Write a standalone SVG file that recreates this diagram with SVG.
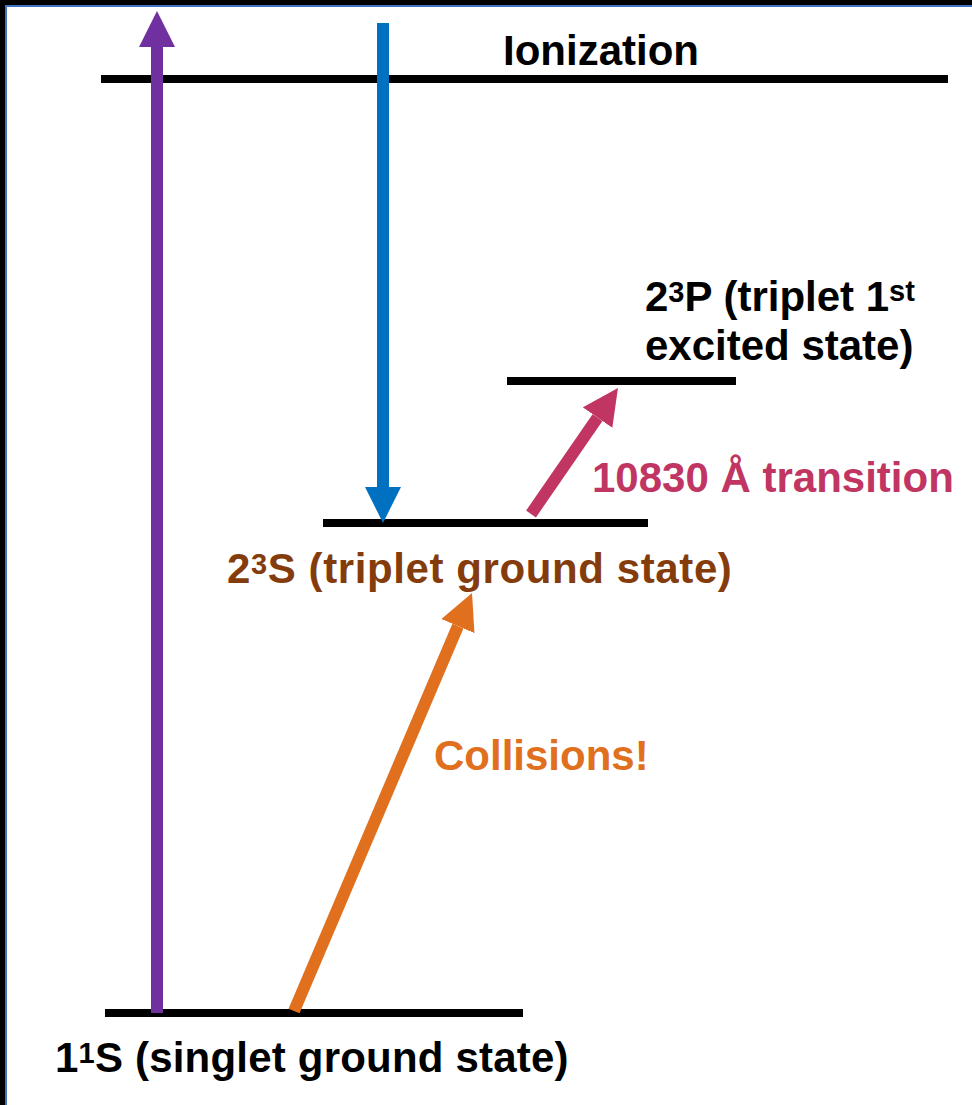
<svg xmlns="http://www.w3.org/2000/svg" width="972" height="1105" viewBox="0 0 972 1105">
<style>
  text { font-family: "Liberation Sans", Arial, sans-serif; font-weight: bold; font-size: 42px; }
  .sup { font-size: 29px; }
  .level { stroke: #000; stroke-width: 8; }
  .arrow { stroke-width: 12; fill: none; stroke-linecap: butt; }
</style>
<defs>
  <marker id="mPurple" markerUnits="strokeWidth" markerWidth="3" markerHeight="3" refX="0" refY="1.5" orient="auto"><path d="M0,0 L3,1.5 L0,3 z" fill="#7030A0"/></marker>
  <marker id="mBlue" markerUnits="strokeWidth" markerWidth="3" markerHeight="3" refX="0" refY="1.5" orient="auto"><path d="M0,0 L3,1.5 L0,3 z" fill="#0070C0"/></marker>
  <marker id="mRose" markerUnits="strokeWidth" markerWidth="3" markerHeight="3" refX="0" refY="1.5" orient="auto"><path d="M0,0 L3,1.5 L0,3 z" fill="#C03562"/></marker>
  <marker id="mOrange" markerUnits="strokeWidth" markerWidth="3" markerHeight="3" refX="0" refY="1.5" orient="auto"><path d="M0,0 L3,1.5 L0,3 z" fill="#E0701E"/></marker>
</defs>
<rect x="0" y="0" width="972" height="1105" fill="#fff"/>
<g id="frame">
  <rect x="0" y="0" width="972" height="5" fill="#000"/>
  <rect x="0" y="0" width="5" height="1105" fill="#000"/>
  <rect x="5" y="5" width="967" height="2" fill="#4472C4"/>
  <rect x="5" y="5" width="2" height="1100" fill="#4472C4"/>
</g>
<g id="ionization">
  <line class="level" x1="101" y1="79" x2="948" y2="79"/>
  <text x="503" y="65">Ionization</text>
</g>
<g id="triplet-excited">
  <line class="level" x1="507" y1="381" x2="736" y2="381"/>
  <text x="645" y="311">2<tspan class="sup" dy="-9">3</tspan><tspan dy="9">P (triplet 1</tspan><tspan class="sup" dy="-10">st</tspan></text>
  <text x="645" y="360">excited state)</text>
</g>
<g id="triplet-ground">
  <line class="level" x1="323" y1="523" x2="648" y2="523"/>
  <text x="227" y="583" fill="#843C0C" letter-spacing="0.6">2<tspan class="sup" dy="-9">3</tspan><tspan dy="9">S (triplet ground state)</tspan></text>
</g>
<g id="singlet-ground">
  <line class="level" x1="105" y1="1013" x2="523" y2="1013"/>
  <text x="55" y="1072" letter-spacing="0.2">1<tspan class="sup" dy="-9">1</tspan><tspan dy="9">S (singlet ground state)</tspan></text>
</g>
<g id="connectors">
  <line class="arrow" stroke="#7030A0" x1="157" y1="1013" x2="157" y2="47" marker-end="url(#mPurple)"/>
  <line class="arrow" stroke="#0070C0" x1="383" y1="23" x2="383" y2="487" marker-end="url(#mBlue)"/>
  <line class="arrow" stroke="#C03562" x1="531" y1="514" x2="597.5" y2="417.6" marker-end="url(#mRose)"/>
  <line class="arrow" stroke="#E0701E" x1="294" y1="1011" x2="457.9" y2="626.1" marker-end="url(#mOrange)"/>
  <text x="592" y="492" fill="#C03562">10830 Å transition</text>
  <text x="434" y="770" fill="#E0701E">Collisions!</text>
</g>
</svg>
